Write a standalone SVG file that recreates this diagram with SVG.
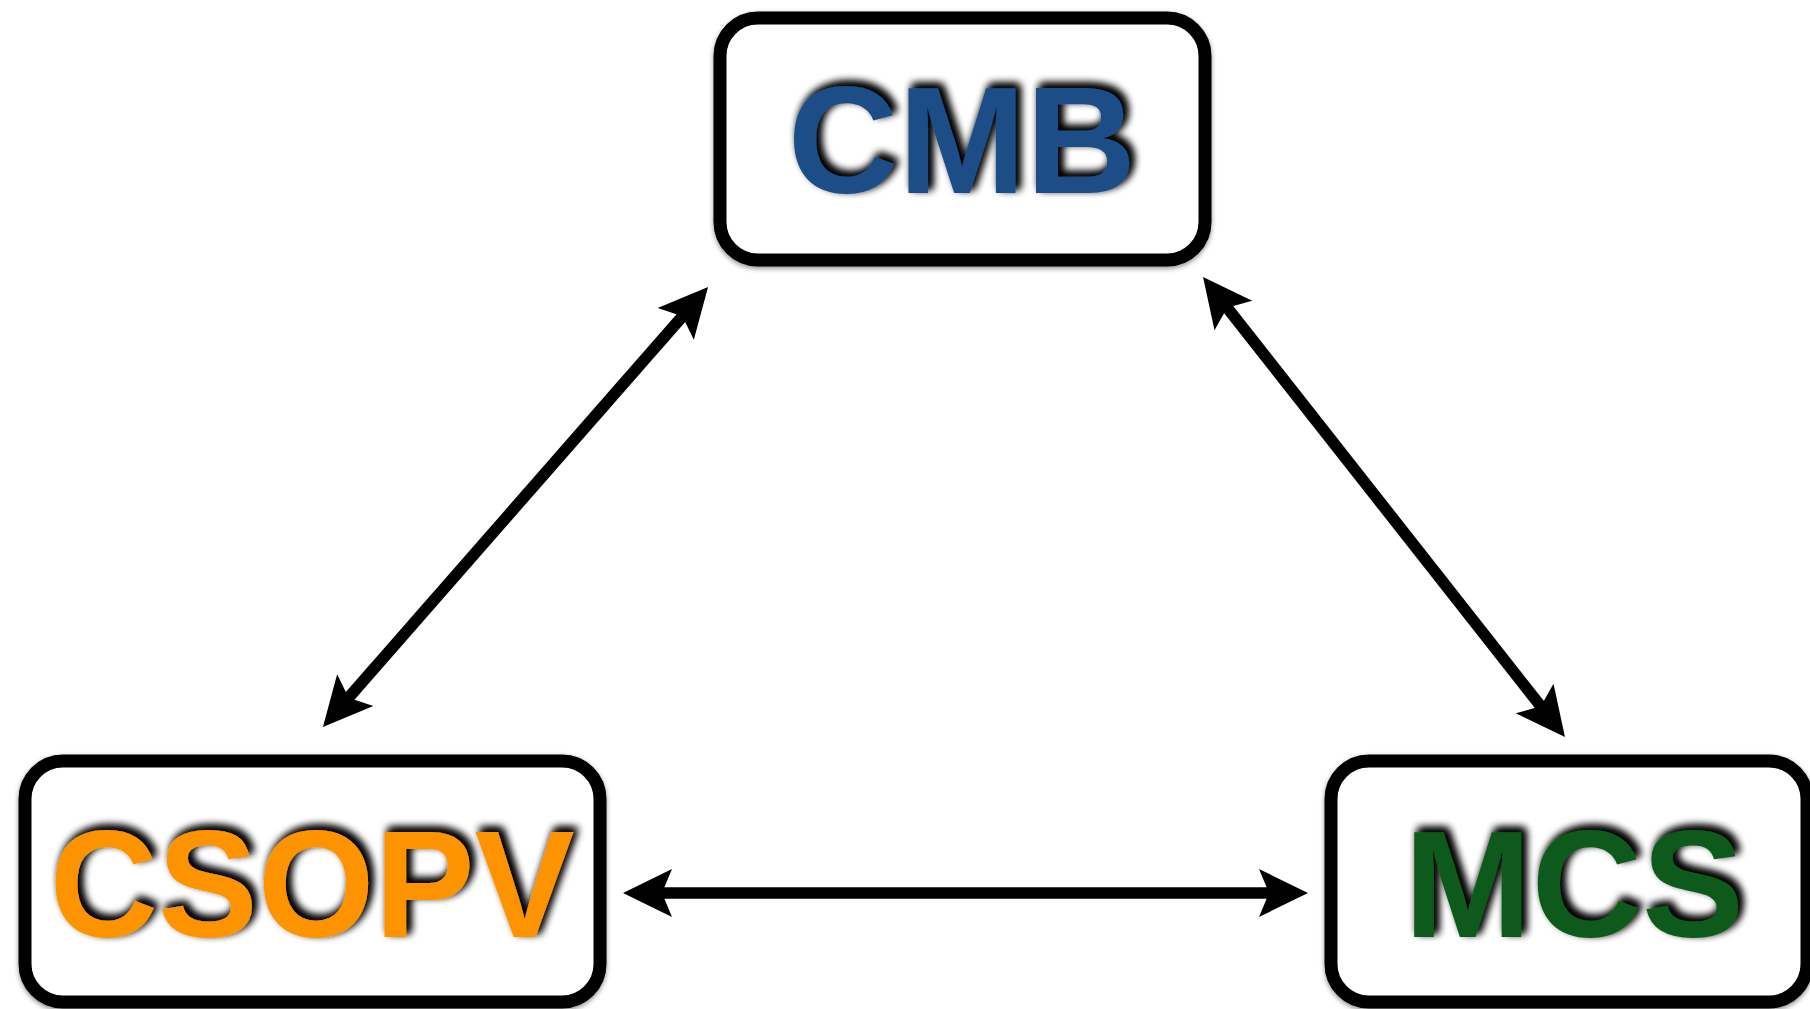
<svg xmlns="http://www.w3.org/2000/svg" width="1810" height="1009" viewBox="0 0 1810 1009">
  <style>
    .box { fill: #ffffff; stroke: #000000; stroke-width: 13; filter: url(#boxShadow); }
    .label { font-family: "Liberation Sans", Arial, sans-serif; font-weight: bold; font-size: 153px; filter: url(#textShadow); }
    .conn { stroke: #000000; stroke-width: 11.5; fill: none; marker-start: url(#arrow); marker-end: url(#arrow); }
  </style>
  <defs>
    <filter id="textShadow" x="-20%" y="-30%" width="140%" height="160%">
      <feGaussianBlur in="SourceAlpha" stdDeviation="4.5"/>
      <feOffset dx="4" dy="-4" result="blur"/>
      <feFlood flood-color="#000000" flood-opacity="1"/>
      <feComposite in2="blur" operator="in" result="shadow"/>
      <feMerge>
        <feMergeNode in="shadow"/>
        <feMergeNode in="shadow"/>
        <feMergeNode in="SourceGraphic"/>
      </feMerge>
    </filter>
    <filter id="boxShadow" x="-10%" y="-10%" width="120%" height="120%">
      <feGaussianBlur in="SourceAlpha" stdDeviation="2.5"/>
      <feOffset dx="0" dy="2" result="blur"/>
      <feFlood flood-color="#000000" flood-opacity="0.45"/>
      <feComposite in2="blur" operator="in" result="shadow"/>
      <feMerge>
        <feMergeNode in="shadow"/>
        <feMergeNode in="SourceGraphic"/>
      </feMerge>
    </filter>
    <marker id="arrow" markerUnits="userSpaceOnUse" orient="auto-start-reverse" refX="0" refY="0" markerWidth="70" markerHeight="60" overflow="visible">
      <path d="M30,0 L-19,-24 L-9,0 L-19,24 Z" fill="#000000"/>
    </marker>
  </defs>

  <g id="connectors">
    <line class="conn" x1="653" y1="893" x2="1278" y2="893"/>
    <line class="conn" x1="342.7" y1="704.4" x2="688.3" y2="309.6"/>
    <line class="conn" x1="1221.6" y1="300.6" x2="1546.4" y2="713.4"/>
  </g>

  <g id="node-cmb">
    <rect class="box" x="720" y="18" width="485" height="242" rx="38" ry="38"/>
    <text class="label" x="962" y="193" text-anchor="middle" fill="#1a4e86">CMB</text>
  </g>

  <g id="node-csopv">
    <rect class="box" x="25" y="761" width="575" height="241" rx="38" ry="38"/>
    <text class="label" x="312" y="937" text-anchor="middle" textLength="525" lengthAdjust="spacingAndGlyphs" fill="#fe9300">CSOPV</text>
  </g>

  <g id="node-mcs">
    <rect class="box" x="1331" y="761" width="476" height="241" rx="38" ry="38"/>
    <text class="label" x="1574" y="937" text-anchor="middle" fill="#0e5a1a">MCS</text>
  </g>
</svg>
